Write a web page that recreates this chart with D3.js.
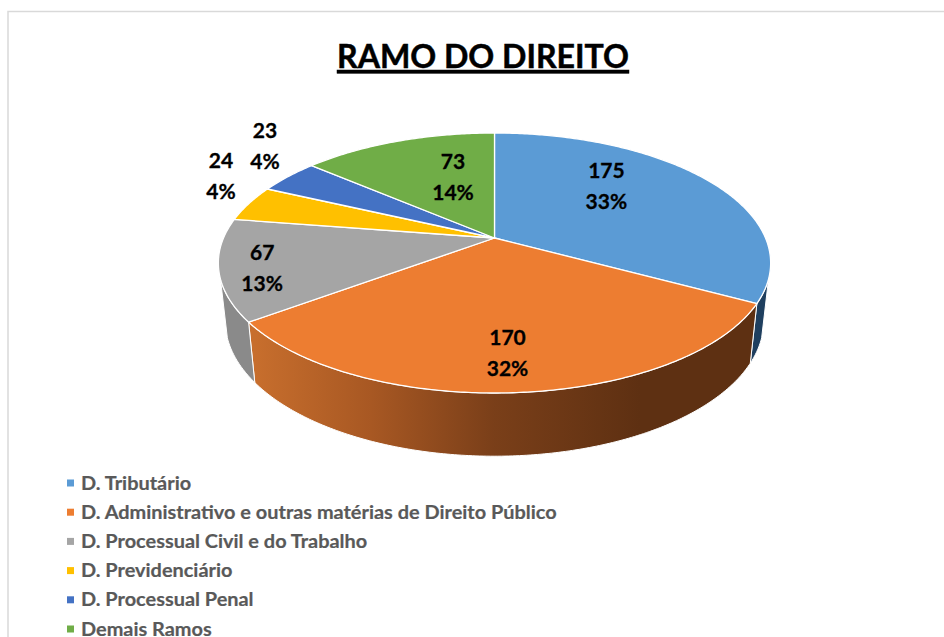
<!DOCTYPE html>
<html>
<head>
<meta charset="utf-8">
<script src="https://cdnjs.cloudflare.com/ajax/libs/d3/7.8.5/d3.min.js"></script>
<style>
	html, body { margin: 0; padding: 0; background: #fff; overflow: hidden; }
	text { font-family: Lato, "Open Sans", sans-serif; font-weight: bold; }
</style>
</head>
<body>
<div id="chart"></div>
<script>
// Chart values
var categories = ["D. Tributário", "D. Administrativo e outras matérias de Direito Público", "D. Processual Civil e do Trabalho", "D. Previdenciário", "D. Processual Penal", "Demais Ramos"];
var values = [175, 170, 67, 24, 23, 73];
var percentLabels = ["33%", "32%", "13%", "4%", "4%", "14%"];
var colors = ["#5B9BD5", "#ED7D31", "#A5A5A5", "#FFC000", "#4472C4", "#70AD47"];

// Layout
var width = 944, height = 637;
var apex = {x: 494.5, y: 238};
var rx = 271, ry = 125.2, tilt = 0.1923;
var depth = 57, bottomX = 0.975, bottomY = 1.04;
var sideRange = [108, 252]; // part of the rim that faces the viewer, degrees
var labelNudge = [[-20, -15], [0, 31], [-70, 12], [-123, -40], [-101, -53], [20, 1]];

var svg = d3.select("#chart").append("svg")
		.attr("width", width)
		.attr("height", height);

// Frame is cut by the image on the right and at the bottom
svg.append("path")
		.attr("d", d3.line()([[8, height], [8, 11.5], [width, 11.5]]))
		.style("fill", "none")
		.style("stroke", "#D9D9D9")
		.style("stroke-width", 1.5);

// Title
svg.append("text")
		.attr("x", 483)
		.attr("y", 68)
		.attr("text-anchor", "middle")
		.attr("textLength", 292)
		.attr("lengthAdjust", "spacingAndGlyphs")
		.style("font-size", "33px")
		.style("text-decoration", "underline")
		.style("fill", "#000")
		.style("stroke", "#000")
		.style("stroke-width", 0.5)
		.text("RAMO DO DIREITO");

var color = d3.scaleOrdinal().domain(categories).range(colors);

var arcs = d3.pie().sort(null)(values);

// Perspective projection of a point on the unit disc
function project(a, r) {
	var u = r * Math.sin(a), v = -r * Math.cos(a), w = 1 - tilt * v;
	return [rx * u / w, ry * v / w];
}
function topPoint(a, r) {
	var p = project(a, r);
	return [apex.x + p[0], apex.y + p[1]];
}
function bottomPoint(a) {
	var p = project(a, 1);
	return [apex.x + p[0] * bottomX, apex.y + depth + p[1] * bottomY];
}
function sweep(a0, a1) {
	var n = Math.max(2, Math.ceil((a1 - a0) * 90));
	return d3.range(n + 1).map(function(i) { return a0 + (a1 - a0) * i / n; });
}

var line = d3.line();
var defs = svg.append("defs");

// Orange rim gets darker from left to right
var grad = defs.append("linearGradient")
		.attr("id", "rimOrange")
		.attr("gradientUnits", "userSpaceOnUse")
		.attr("x1", 255).attr("x2", 640).attr("y1", 0).attr("y2", 0);
grad.selectAll("stop")
	.data([[0, "#C76E2D"], [0.3, "#A85823"], [0.62, "#7A3F19"], [1, "#5E3012"]])
	.enter().append("stop")
		.attr("offset", function(d) { return d[0]; })
		.attr("stop-color", function(d) { return d[1]; });

var sideFill = {0: "#1F3F5F", 1: "url(#rimOrange)", 2: "#8A8A8A"};

// Rim
var loA = sideRange[0] * Math.PI / 180, hiA = sideRange[1] * Math.PI / 180;
var sides = arcs.filter(function(d) { return d.endAngle > loA && d.startAngle < hiA; });

svg.append("g").attr("class", "rim").selectAll("path")
	.data(sides)
	.enter().append("path")
		.attr("d", function(d) {
			var s = sweep(Math.max(d.startAngle, loA), Math.min(d.endAngle, hiA));
			return line(s.map(function(a) { return topPoint(a, 1); })
				.concat(s.slice().reverse().map(bottomPoint))) + "Z";
		})
		.style("fill", function(d) { return sideFill[d.index]; })
		.style("stroke", "#fff")
		.style("stroke-width", 1)
		.style("stroke-linejoin", "round");

// Top of the pie
svg.append("g").attr("class", "slices").selectAll("path")
	.data(arcs)
	.enter().append("path")
		.attr("d", function(d) {
			var pts = sweep(d.startAngle, d.endAngle).map(function(a) { return topPoint(a, 1); });
			return line([[apex.x, apex.y]].concat(pts)) + "Z";
		})
		.style("fill", function(d, i) { return color(categories[i]); })
		.style("stroke", "#fff")
		.style("stroke-width", 1.3)
		.style("stroke-linejoin", "round");

// Value labels
var label = svg.append("g").attr("class", "labels").selectAll("g")
	.data(arcs)
	.enter().append("g")
		.attr("transform", function(d, i) {
			var p = topPoint((d.startAngle + d.endAngle) / 2, 0.6);
			return "translate(" + (p[0] + labelNudge[i][0]) + "," + (p[1] + labelNudge[i][1]) + ")";
		});

label.append("text")
		.attr("y", -8.5)
		.attr("text-anchor", "middle")
		.style("font-size", "21px")
		.style("fill", "#000")
		.style("stroke", "#000")
		.style("stroke-width", 0.3)
		.text(function(d) { return d.value; });

label.append("text")
		.attr("y", 22.5)
		.attr("text-anchor", "middle")
		.style("font-size", "21px")
		.style("fill", "#000")
		.style("stroke", "#000")
		.style("stroke-width", 0.3)
		.text(function(d, i) { return percentLabels[i]; });

// Legend
var legendY = d3.scalePoint().domain(categories).range([483, 629]);

var legend = svg.append("g").attr("class", "legend").selectAll("g")
	.data(categories)
	.enter().append("g")
		.attr("transform", function(d) { return "translate(0," + legendY(d) + ")"; });

legend.append("rect")
		.attr("x", 67)
		.attr("y", -3.5)
		.attr("width", 7)
		.attr("height", 7)
		.style("fill", function(d) { return color(d); });

legend.append("text")
		.attr("transform", "translate(81,0) scale(1.06,1)")
		.attr("dy", "0.35em")
		.style("font-size", "18.8px")
		.style("fill", "#595959")
		.style("stroke", "#595959")
		.style("stroke-width", 0.2)
		.text(function(d) { return d; });
</script>
</body>
</html>
